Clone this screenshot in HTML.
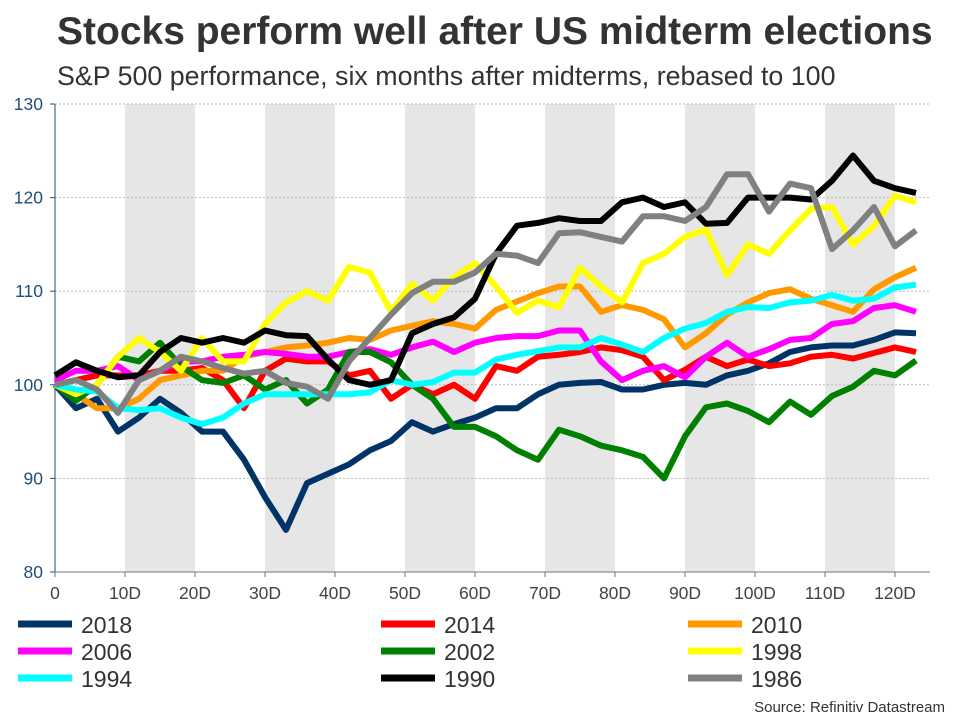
<!DOCTYPE html>
<html><head><meta charset="utf-8"><style>
body{margin:0;background:#fff;}
svg{display:block;font-family:"Liberation Sans",Arial,sans-serif;}
</style></head><body>
<svg id="chart" width="960" height="720" viewBox="0 0 960 720">
<text x="57" y="44" font-size="39" font-weight="bold" fill="#333">Stocks perform well after US midterm elections</text>
<text x="57" y="85" font-size="26.8" fill="#333">S&amp;P 500 performance, six months after midterms, rebased to 100</text>
<g id="bands"></g><g id="grid"></g><g id="axes"></g><g id="lines"></g><g id="legend"></g>
<text x="945" y="712" font-size="15" fill="#333" text-anchor="end">Source: Refinitiv Datastream</text>
</svg>
<script>
const days=[0,3,6,9,12,15,18,21,24,27,30,33,36,39,42,45,48,51,54,57,60,63,66,69,72,75,78,81,84,87,90,93,96,99,102,105,108,111,114,117,120,123];
const yTicks=[80,90,100,110,120,130];
const xTicks=[0,10,20,30,40,50,60,70,80,90,100,110,120];
const xTickLabels=["0","10D","20D","30D","40D","50D","60D","70D","80D","90D","100D","110D","120D"];
const bandStarts=[10,30,50,70,90,110];
const names=["2018","2014","2010","2006","2002","1998","1994","1990","1986"];
const colors=["#003366","#ff0000","#ff9900","#ff00ff","#008000","#ffff00","#00ffff","#000000","#808080"];
const s2018=[100,97.5,98.5,95,96.5,98.5,97,95,95,92,88,84.5,89.5,90.5,91.5,93,94,96,95,95.8,96.5,97.5,97.5,99,100,100.2,100.3,99.5,99.5,100,100.2,100,101,101.5,102.3,103.5,104,104.2,104.2,104.8,105.6,105.5];
const s2014=[100,100.5,101,101,101,101.5,101.5,101.8,100.5,97.5,101.5,102.8,102.5,102.5,101,101.5,98.5,100,99,100,98.5,102,101.5,103,103.2,103.5,104,103.7,103,100.5,101.6,103,102,102.7,102,102.3,103,103.2,102.8,103.4,104,103.5];
const s2010=[100,99,97.5,97.5,98.5,100.5,101,101.5,101.5,103,103.5,104,104.2,104.5,105,104.8,105.8,106.3,106.8,106.5,106,108,108.9,109.8,110.5,110.5,107.8,108.5,108,107,104,105.5,107.5,108.8,109.8,110.2,109.2,108.5,107.8,110.2,111.5,112.5];
const s2006=[100.5,101.5,101.5,102,100.5,101.5,102.5,102.5,103,103.2,103.5,103.3,103,103,103.5,103.8,103.2,104,104.6,103.5,104.5,105,105.2,105.2,105.8,105.8,102.5,100.5,101.5,102,100.8,103,104.5,103,103.8,104.8,105,106.5,106.8,108.2,108.5,107.8];
const s2002=[100,98.3,100,103,102.5,104.5,102,100.5,100.2,101,99.5,100.5,98,99.5,103.5,103.5,102.4,100,98.5,95.5,95.5,94.5,93,92,95.2,94.5,93.5,93,92.3,90,94.5,97.6,98,97.2,96,98.2,96.8,98.8,99.8,101.5,101,102.6];
const s1998=[100,99,100,103,105,103.5,101.5,105,102.5,102.5,106.5,108.8,110,109,112.6,112,107.8,110.8,109,111.5,113,110.5,107.7,109,108.3,112.5,110.5,108.8,113,114,115.8,116.6,111.7,115,114,116.5,118.8,119,115,117,120.2,119.5];
const s1994=[100,99.5,99.3,97.5,97.3,97.5,96.5,95.8,96.5,98,99,99,99,99,99,99.2,100.5,100,100.3,101.3,101.3,102.7,103.2,103.6,104,104,105,104.3,103.5,105,106,106.6,107.8,108.3,108.2,108.8,109,109.6,109,109.2,110.4,110.7];
const s1990=[101,102.4,101.5,100.8,101,103.5,105,104.5,105,104.5,105.8,105.3,105.2,102.7,100.5,100,100.5,105.5,106.5,107.2,109.2,114,117,117.3,117.8,117.5,117.5,119.5,120,119,119.5,117.2,117.3,120,120,120,119.8,121.8,124.5,121.8,121,120.5];
const s1986=[100,100.5,99.5,97,100.5,101.5,103,102.5,101.8,101.2,101.5,100.2,99.8,98.5,102.5,105,107.5,109.8,111,111,112,114,113.8,113,116.2,116.3,115.8,115.3,118,118,117.5,119,122.5,122.5,118.5,121.5,121,114.5,116.5,119,114.8,116.5];
const series=[s2018,s2014,s2010,s2006,s2002,s1998,s1994,s1990,s1986];

const NS="http://www.w3.org/2000/svg";
const X0=55,X1=930,DMAX=125,Y0=572,Y1=104,VMIN=80,VMAX=130;
function xs(d){return X0+(d/DMAX)*(X1-X0);}
function ys(v){return Y0-(v-VMIN)/(VMAX-VMIN)*(Y0-Y1);}
function mk(tag,attrs,parent){const e=document.createElementNS(NS,tag);for(const k in attrs)e.setAttribute(k,attrs[k]);parent.appendChild(e);return e;}
const bands=document.getElementById('bands'),grid=document.getElementById('grid'),axes=document.getElementById('axes'),lines=document.getElementById('lines'),legend=document.getElementById('legend');
bandStarts.forEach(b=>{const r=mk('rect',{x:xs(b),y:Y1,width:xs(b+10)-xs(b),height:Y0-Y1,fill:'#e6e6e6'},bands);

});
yTicks.forEach(v=>{
 if(v>VMIN){const l=mk('line',{x1:X0,x2:X1,y1:ys(v),y2:ys(v),stroke:'#bbb','stroke-width':1,'stroke-dasharray':'2,2'},grid);
 
 }
 const tk=mk('line',{x1:X0-5,x2:X0,y1:ys(v),y2:ys(v),stroke:'#1f4e79','stroke-width':1},axes);
 
 
 const t=mk('text',{x:X0-12,y:ys(v)+6,'font-size':17.5,fill:'#1f4e79','text-anchor':'end'},axes);t.textContent=v;
 
 
});
const ya=mk('line',{x1:X0,x2:X0,y1:Y1,y2:Y0,stroke:'#1f4e79','stroke-width':1},axes);


const xa=mk('line',{x1:X0,x2:X1,y1:Y0,y2:Y0,stroke:'#777','stroke-width':1},axes);


xTicks.forEach((d,i)=>{
 const tk=mk('line',{x1:xs(d),x2:xs(d),y1:Y0,y2:Y0+5,stroke:'#777','stroke-width':1},axes);
 
 
 const t=mk('text',{x:xs(d),y:599,'font-size':17.5,fill:'#444','text-anchor':'middle'},axes);t.textContent=xTickLabels[i];
 
 
});
series.forEach((s,i)=>{
 const pts=s.map((v,j)=>xs(days[j]).toFixed(1)+','+ys(v).toFixed(1)).join(' ');
 const p=mk('polyline',{points:pts,fill:'none',stroke:colors[i],'stroke-width':6,'stroke-linejoin':'round','stroke-linecap':'butt'},lines);
 
 
});
const colX=[18,381,688],rowY=[624,651,678];
names.forEach((n,i)=>{
 const cx=colX[i%3],cy=rowY[Math.floor(i/3)];
 const g=mk('g',{},legend);
 
 
 mk('rect',{x:cx,y:cy-3.5,width:54,height:7,fill:colors[i]},g);
 const t=mk('text',{x:cx+63,y:cy+9,'font-size':23,fill:'#333'},g);t.textContent=n;
});
</script>
</body></html>
